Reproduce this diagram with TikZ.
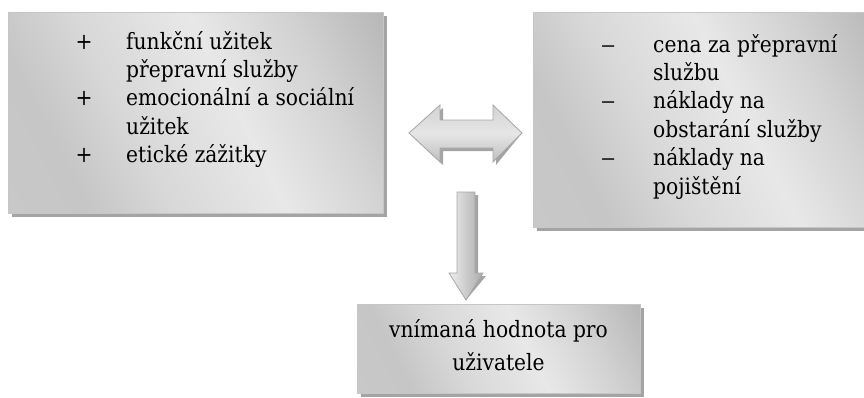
\documentclass[tikz,border=0pt]{standalone}
\usepackage{fontspec}
\usepackage{graphicx}
\setmainfont{DejaVu Serif Condensed}
\usetikzlibrary{shadows}
\definecolor{bxA}{HTML}{C8C8C8}
\definecolor{bxB}{HTML}{C6C6C6}
\definecolor{bxC}{HTML}{D8D8D8}
\definecolor{bxD}{HTML}{E8E8E8}
\definecolor{bxE}{HTML}{D2D2D2}
\definecolor{bxF}{HTML}{B4B4B4}
\definecolor{boxline}{HTML}{C6C6C6}
\definecolor{shadowc}{HTML}{A4A4A4}
\definecolor{arrline}{HTML}{A6A6A6}
\definecolor{arA}{HTML}{BEBEBE}
\definecolor{arB}{HTML}{E6E6E6}
\definecolor{arC}{HTML}{D2D2D2}
\pgfdeclarehorizontalshading{boxshade}{100bp}{color(0bp)=(bxA); color(16bp)=(bxA); color(28bp)=(bxB); color(40bp)=(bxC); color(56bp)=(bxD); color(70bp)=(bxE); color(85bp)=(bxF); color(100bp)=(bxF)}
\pgfdeclareverticalshading{arrshade}{100bp}{color(0bp)=(arA); color(25bp)=(arA); color(50bp)=(arB); color(75bp)=(arC); color(100bp)=(arC)}
\tikzset{
  panel/.style={draw=boxline, line width=0.8pt, shading=boxshade, shading angle=27,
    inner sep=0pt, anchor=north west,
    drop shadow={shadow xshift=4pt, shadow yshift=-4pt, fill=shadowc, opacity=1}},
  blockarrow/.style={draw=arrline, line width=0.8pt, line join=miter},
  arrshadow/.style={fill=shadowc},
  txt/.style={inner sep=0pt, font=\fontsize{22.5}{28.4}\selectfont}
}
\newcommand{\plusmark}{\makebox[0pt]{+}}
\newcommand{\minusmark}{\makebox[0pt]{\scalebox{1.45}[1]{–}}}
\begin{document}
\begin{tikzpicture}[x=1pt,y=-1pt]
\useasboundingbox (0,0) rectangle (864,397);
\clip (0,0) rectangle (864,397);
% boxes
\node[panel, minimum width=375pt, minimum height=201pt] (lbox) at (8,12) {};
\node[panel, minimum width=345pt, minimum height=215pt] (rbox) at (533,12) {};
\node[panel, minimum width=283pt, minimum height=89pt] (bbox) at (357,304) {};
% texts
\node[txt, anchor=base west] (ltext) at (84,49) {\begin{tabular}[t]{@{}p{42pt}@{}l@{}}
\plusmark & funkční užitek\\
 & přepravní služby\\
\plusmark & emocionální a sociální\\
 & užitek\\
\plusmark & etické zážitky
\end{tabular}};
\node[txt, anchor=base west] (rtext) at (608,52) {\begin{tabular}[t]{@{}p{45pt}@{}l@{}}
\minusmark & cena za přepravní\\
 & službu\\
\minusmark & náklady na\\
 & obstarání služby\\
\minusmark & náklady na\\
 & pojištění
\end{tabular}};
\node[txt, anchor=base, font=\fontsize{22.5}{33}\selectfont] (btext) at (498.5,337) {\begin{tabular}[t]{@{}c@{}}
vnímaná hodnota pro\\
uživatele
\end{tabular}};
% double arrow between boxes
\coordinate (dl) at (409,133);
\coordinate (dr) at (522,133);
\fill[arrshadow, shift={(3,3)}] (dl) -- (440,105) -- (440,120) -- (493,120) -- (493,105) -- (dr) -- (493,162) -- (493,148) -- (440,148) -- (440,162) -- cycle;
\path[blockarrow, shading=arrshade] (dl) -- (440,105) -- (440,120) -- (493,120) -- (493,105) -- (dr) -- (493,162) -- (493,148) -- (440,148) -- (440,162) -- cycle;
% down arrow to bottom box
\coordinate (dt) at (466,192);
\coordinate (db) at (466,300);
\fill[arrshadow, shift={(3,3)}] (457,192) -- (475,192) -- (475,273) -- (483,273) -- (db) -- (449,273) -- (457,273) -- cycle;
\path[blockarrow, left color=arB!70!white, right color=arA!90!black] (457,192) -- (475,192) -- (475,273) -- (483,273) -- (db) -- (449,273) -- (457,273) -- cycle;
\end{tikzpicture}
\end{document}
